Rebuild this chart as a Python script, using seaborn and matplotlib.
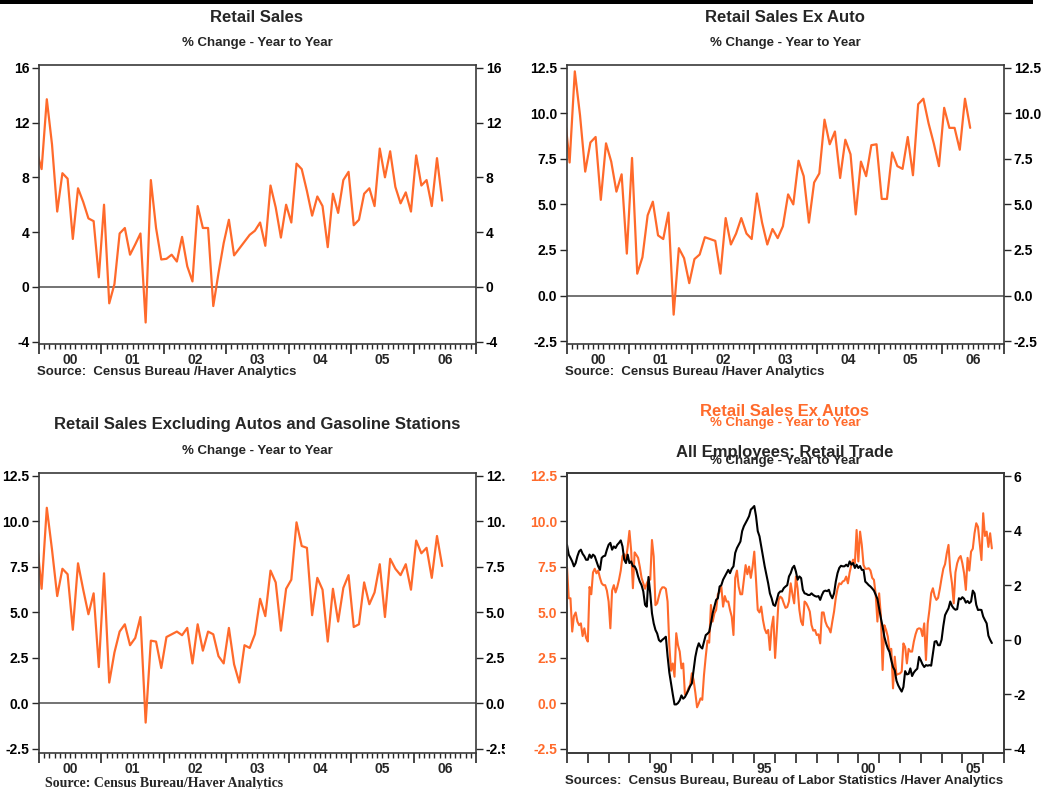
import numpy as np
import pandas as pd
import matplotlib
matplotlib.use("Agg")
import matplotlib.pyplot as plt
import seaborn as sns
from matplotlib.patches import Rectangle
from matplotlib.transforms import Bbox, TransformedBbox

# % change year to year, monthly, Dec 1999 .. Jun 2006
retail_sales = [10.0,
    8.6, 13.7, 10.4, 5.5, 8.3, 7.9, 3.5, 7.2, 6.2, 5.0, 4.8, 0.7,
    6.0, -1.2, 0.2, 3.9, 4.3, 2.35, 3.1, 3.9, -2.6, 7.8, 4.3, 2.0,
    2.05, 2.35, 1.85, 3.65, 1.5, 0.4, 5.9, 4.3, 4.3, -1.4, 1.0, 3.2,
    4.9, 2.3, 2.8, 3.3, 3.8, 4.1, 4.7, 3.0, 7.4, 5.8, 3.6, 6.0,
    4.7, 9.0, 8.6, 7.0, 5.2, 6.6, 5.9, 2.9, 6.8, 5.4, 7.8, 8.4,
    4.5, 4.9, 6.8, 7.2, 5.9, 10.1, 8.0, 9.9, 7.3, 6.1, 6.9, 5.5,
    9.6, 7.4, 7.8, 5.9, 9.4, 6.3]

retail_ex_auto = [10.1,
    7.3, 12.3, 9.9, 6.8, 8.4, 8.7, 5.25, 8.35, 7.35, 5.7, 6.65, 2.3,
    7.55, 1.2, 2.1, 4.4, 5.15, 3.3, 3.1, 4.55, -1.05, 2.6, 2.05, 0.68,
    2.0, 2.25, 3.2, 3.1, 3.0, 1.2, 4.25, 2.8, 3.4, 4.25, 3.4, 3.1,
    5.6, 4.0, 2.8, 3.65, 3.15, 3.8, 5.55, 5.0, 7.4, 6.55, 4.0, 6.2,
    6.7, 9.65, 8.3, 9.0, 6.45, 8.55, 7.75, 4.45, 7.35, 6.55, 8.25, 8.3,
    5.3, 5.3, 7.85, 7.1, 6.95, 8.7, 6.6, 10.5, 10.8, 9.45, 8.35, 7.1,
    10.3, 9.2, 9.2, 8.0, 10.8, 9.2]

retail_ex_auto_gas = [9.2,
    6.3, 10.75, 8.45, 5.9, 7.4, 7.1, 4.05, 7.7, 6.25, 4.9, 6.05, 2.0,
    7.15, 1.15, 2.8, 3.95, 4.35, 3.2, 3.6, 4.75, -1.05, 3.45, 3.4, 1.95,
    3.65, 3.8, 3.95, 3.75, 4.15, 2.2, 4.35, 2.9, 3.95, 3.8, 2.6, 2.2,
    4.15, 2.15, 1.15, 3.2, 3.05, 3.8, 5.75, 4.8, 7.3, 6.65, 4.0, 6.3,
    6.8, 9.95, 8.65, 8.55, 4.85, 6.9, 6.25, 3.4, 6.3, 4.5, 6.35, 7.05,
    4.2, 4.35, 6.65, 5.45, 6.1, 7.65, 4.75, 7.95, 7.4, 7.05, 7.65, 6.25,
    8.95, 8.25, 8.55, 6.9, 9.2, 7.55]

# monthly, Jan 1986 .. Jun 2006
ex_autos_long = [
    7.5, 5.78, 5.78, 3.95, 4.8, 5.0, 4.5, 4.3, 4.4, 3.7, 4.13, 3.6,
    3.4, 6.4, 6.0, 7.2, 7.4, 7.15, 7.3, 6.9, 6.6, 6.5, 6.5, 6.2,
    5.6, 4.13, 6.2, 6.5, 6.1, 6.4, 6.8, 7.3, 8.1, 8.2, 7.9, 8.6,
    9.48, 8.4, 6.33, 8.3, 8.16, 8.0, 7.5, 6.9, 6.6, 6.3, 6.6, 6.8,
    6.8, 8.98, 8.07, 5.4, 5.5, 5.9, 6.24, 6.38, 6.38, 6.3, 5.6, 3.2,
    1.8, 2.2, 1.47, 3.86, 3.2, 2.85, 1.93, 2.2, 0.5, 0.56, 0.83, 1.0,
    1.66, 1.29, 0.6, -0.21, 0.01, 0.28, 0.2, 1.57, 2.57, 3.45, 3.34, 5.41,
    4.5, 4.95, 5.14, 6.0, 6.14, 6.42, 5.32, 5.9, 5.6, 5.6, 5.14, 4.77,
    3.76, 6.9, 7.3, 6.42, 6.0, 6.0, 6.79, 7.6, 7.1, 7.52, 6.9, 7.5,
    8.34, 6.79, 5.14, 5.0, 5.32, 4.59, 4.1, 3.86, 4.04, 2.94, 4.2, 4.77,
    2.5, 4.0, 5.69, 5.87, 5.78, 5.5, 5.25, 5.3, 5.6, 6.6, 6.0, 5.5,
    6.97, 6.3, 5.14, 4.5, 4.3, 5.6, 5.5, 5.3, 5.05, 4.31, 4.0, 4.04,
    3.76, 3.8, 3.3, 5.0, 5.0, 4.5, 4.25, 4.13, 3.9, 4.5, 5.05, 5.8,
    6.3, 6.6, 6.55, 6.7, 6.75, 6.97, 6.6, 7.2, 7.61, 7.9, 7.7, 9.53,
    7.8, 9.44, 8.71, 7.61, 7.4, 7.4, 7.43, 7.3, 6.9, 6.79, 6.0, 4.5,
    6.05, 4.8, 1.84, 4.3, 4.04, 3.67, 2.9, 3.0, 0.83, 2.57, 1.57, 1.62,
    1.65, 1.75, 3.3, 3.1, 2.2, 3.0, 2.85, 2.85, 3.4, 3.8, 4.08, 4.13,
    4.1, 3.7, 4.4, 2.39, 4.4, 5.14, 6.05, 6.33, 5.9, 5.69, 5.8, 6.3,
    6.88, 7.4, 7.65, 8.25, 8.71, 7.3, 6.6, 5.5, 7.2, 7.7, 7.98, 8.1,
    7.7, 7.15, 6.24, 8.0, 7.3, 8.34, 8.5, 9.35, 9.9, 9.7, 8.8, 7.88,
    10.45, 9.2, 9.44, 8.6, 9.35, 8.52]

retail_employees = [
    3.48, 3.12, 3.0, 2.87, 2.69, 2.81, 3.06, 3.24, 3.3, 3.15, 3.06, 2.93,
    2.93, 3.12, 3.0, 3.12, 3.06, 2.87, 2.69, 2.56, 3.0, 3.06, 3.08, 3.3,
    3.48, 3.55, 3.3, 3.42, 3.36, 3.48, 3.55, 3.64, 3.42, 2.93, 2.81, 3.12,
    2.81, 2.87, 2.69, 2.69, 2.56, 2.32, 2.13, 2.0, 1.77, 1.28, 1.21, 2.3,
    1.7, 0.97, 0.6, 0.36, 0.23, -0.01, -0.07, 0.0, 0.05, 0.11, -0.6, -1.2,
    -1.6, -2.0, -2.37, -2.37, -2.32, -2.22, -2.04, -2.16, -2.1, -1.98, -1.85, -1.7,
    -1.6, -1.12, -0.63, -0.32, -0.13, -0.26, -0.32, -0.07, 0.17, 0.22, 0.29, 0.6,
    0.97, 1.21, 1.46, 1.52, 1.95, 2.0, 2.2, 2.32, 2.44, 2.56, 2.44, 2.6,
    2.69, 3.18, 3.36, 3.48, 3.6, 3.98, 4.16, 4.28, 4.4, 4.53, 4.77, 4.83,
    4.9, 4.53, 3.98, 3.79, 3.42, 3.06, 2.69, 2.38, 2.07, 1.7, 1.52, 1.28,
    1.24, 1.46, 1.7, 1.77, 1.77, 1.89, 1.95, 2.0, 2.32, 2.44, 2.63, 2.71,
    2.5, 2.2, 2.32, 2.26, 1.83, 1.7, 1.68, 1.64, 1.64, 1.7, 1.64, 1.6,
    1.58, 1.6, 1.46, 1.64, 1.77, 1.8, 1.78, 1.83, 1.64, 1.52, 1.7, 2.13,
    2.44, 2.63, 2.71, 2.69, 2.69, 2.75, 2.69, 2.87, 2.75, 2.81, 2.63, 2.75,
    2.63, 2.7, 2.56, 2.56, 2.13, 2.07, 2.0, 1.95, 1.88, 1.8, 1.65, 1.5,
    1.15, 0.79, 0.48, 0.11, -0.13, -0.32, -0.45, -0.75, -1.0, -1.12, -1.5, -1.67,
    -1.79, -1.9, -1.73, -1.15, -1.27, -1.25, -1.05, -1.33, -1.2, -1.12, -1.06, -0.63,
    -0.75, -0.9, -1.0, -0.93, -0.95, -0.93, -0.95, -0.5, -0.07, -0.05, -0.2, -0.2,
    0.0, 0.5, 0.9, 1.03, 1.15, 1.4, 1.24, 1.15, 1.1, 1.12, 1.52, 1.48,
    1.56, 1.5, 1.36, 1.42, 1.34, 1.4, 1.8, 1.7, 1.28, 1.09, 1.1, 1.09,
    0.85, 0.72, 0.6, 0.15, 0.0, -0.12]

recent_years = list(range(2000, 2007))
long_label_years = [1990, 1995, 2000, 2005]

ORANGE = "#FF6A2B"
W, H = 1042, 789

sns.set_style("ticks")
plt.rcParams["font.family"] = ["Liberation Sans", "DejaVu Sans"]
plt.rcParams["font.weight"] = "bold"
plt.rcParams["axes.edgecolor"] = "#3a3a3a"
plt.rcParams["axes.linewidth"] = 1.2

fig = plt.figure(figsize=(W / 100, H / 100), dpi=100)
fig.add_artist(Rectangle((0, 1 - 4 / H), 1033 / W, 4 / H, transform=fig.transFigure,
                         color="black", lw=0))


def px_axes(x0, y0, x1, y1):
    return fig.add_axes([x0 / W, 1 - y1 / H, (x1 - x0) / W, (y1 - y0) / H])


def ftext(x, y, s, **kw):
    kw.setdefault("fontweight", "bold")
    return fig.text(x / W, 1 - y / H, s, **kw)


recent_x = 1999 + (np.arange(len(retail_sales)) + 11.5) / 12
long_x = 1986 + np.arange(len(ex_autos_long)) / 12


def style_y(ax, yticks, fmt, color="black"):
    ax.set_yticks(yticks)
    ax.set_yticklabels([fmt.format(t) for t in yticks])
    ax.tick_params(axis="y", which="major", left=True, right=True, labelleft=True,
                   labelright=True, length=5, width=1.0, pad=2, labelsize=10,
                   labelcolor=color)


def recent_panel(ax, values, ylim, yticks, fmt):
    df = pd.DataFrame({"date": recent_x, "pct": values})
    sns.lineplot(data=df, x="date", y="pct", ax=ax, color=ORANGE, linewidth=1.6)
    ax.axhline(0, color="#4d4d4d", linewidth=1.1, zorder=1)
    ax.set_xlim(2000, 2007)
    ax.set_ylim(*ylim)
    ax.set_xticks(range(2000, 2008))
    ax.set_xticks(np.arange(2000, 2007, 1 / 12), minor=True)
    ax.set_xticklabels([])
    ax.tick_params(axis="x", which="major", length=7, width=1.2, direction="out")
    ax.tick_params(axis="x", which="minor", length=3.5, width=1.0, direction="out")
    for yr in recent_years:
        ax.text(yr + 0.5, -0.058, f"{yr % 100:02d}", transform=ax.get_xaxis_transform(),
                ha="center", va="center", fontsize=10, fontweight="bold")
    style_y(ax, yticks, fmt)
    ax.set_xlabel("")
    ax.set_ylabel("")


# top left
ax1 = px_axes(39, 65, 476, 344)
recent_panel(ax1, retail_sales, (-4.17, 16.2), [-4, 0, 4, 8, 12, 16], "{:.0f}")
ftext(257, 17, "Retail Sales", ha="center", va="center", fontsize=12)
ftext(257, 43, "% Change - Year to Year", ha="center", va="center", fontsize=9.5)
ftext(37, 372, "Source:  Census Bureau /Haver Analytics", ha="left", va="center", fontsize=9.5)

# top right
ax2 = px_axes(567, 65, 1004, 344)
recent_panel(ax2, retail_ex_auto, (-2.66, 12.65), [-2.5, 0, 2.5, 5, 7.5, 10, 12.5], "{:.1f}")
ftext(785, 17, "Retail Sales Ex Auto", ha="center", va="center", fontsize=12)
ftext(785, 43, "% Change - Year to Year", ha="center", va="center", fontsize=9.5)
ftext(565, 372, "Source:  Census Bureau /Haver Analytics", ha="left", va="center", fontsize=9.5)

# bottom left
ax3 = px_axes(39, 473, 476, 753)
recent_panel(ax3, retail_ex_auto_gas, (-2.72, 12.66), [-2.5, 0, 2.5, 5, 7.5, 10, 12.5], "{:.1f}")
clip = TransformedBbox(Bbox([[0, 0], [505 / W, 1]]), fig.transFigure)
for tick in ax3.yaxis.get_major_ticks():
    tick.label2.set_clip_on(True)
    tick.label2.set_clip_box(clip)
ftext(257, 425, "Retail Sales Excluding Autos and Gasoline Stations", ha="center",
      va="center", fontsize=12)
ftext(257, 451, "% Change - Year to Year", ha="center", va="center", fontsize=9.5)
ftext(45, 777, "Source: Census Bureau/Haver Analytics", ha="left", va="top", fontsize=10,
      family=["Liberation Serif", "DejaVu Serif"])

# bottom right, two scales
ax4 = px_axes(567, 473, 1004, 753)
sns.lineplot(x=long_x, y=ex_autos_long, ax=ax4, color=ORANGE, linewidth=1.5)
ax4.set_xlim(1986, 2007)
ax4.set_ylim(-2.72, 12.66)
ax4.set_xticks(range(1986, 2008))
ax4.set_xticklabels([])
ax4.tick_params(axis="x", which="major", length=7, width=1.2, direction="out")
for yr in long_label_years:
    ax4.text(yr + 0.5, -0.058, f"{yr % 100:02d}", transform=ax4.get_xaxis_transform(),
             ha="center", va="center", fontsize=10, fontweight="bold")
ax4.set_yticks([-2.5, 0, 2.5, 5, 7.5, 10, 12.5])
ax4.set_yticklabels([f"{t:.1f}" for t in [-2.5, 0, 2.5, 5, 7.5, 10, 12.5]])
ax4.tick_params(axis="y", length=5, width=1.0, pad=2, labelsize=10, labelcolor=ORANGE,
                left=True, right=False)

ax4r = ax4.twinx()
sns.lineplot(x=long_x, y=retail_employees, ax=ax4r, color="black", linewidth=1.5)
ax4r.set_ylim(-4.15, 6.11)
ax4r.set_yticks([-4, -2, 0, 2, 4, 6])
ax4r.set_yticklabels(["-4", "-2", "0", "2", "4", "6"])
ax4r.tick_params(axis="y", length=5, width=1.0, pad=2, labelsize=10, labelcolor="black")
for a in (ax4, ax4r):
    a.set_xlabel("")
    a.set_ylabel("")

ftext(785, 412, "Retail Sales Ex Autos", ha="center", va="center", fontsize=12, color=ORANGE)
ftext(785, 423, "% Change - Year to Year", ha="center", va="center", fontsize=9.5, color=ORANGE)
ftext(785, 452, "All Employees: Retail Trade", ha="center", va="center", fontsize=12)
ftext(785, 461, "% Change - Year to Year", ha="center", va="center", fontsize=9.5)
ftext(565, 781, "Sources:  Census Bureau, Bureau of Labor Statistics /Haver Analytics",
      ha="left", va="center", fontsize=9.5)

fig.savefig("out.png", dpi=100)
